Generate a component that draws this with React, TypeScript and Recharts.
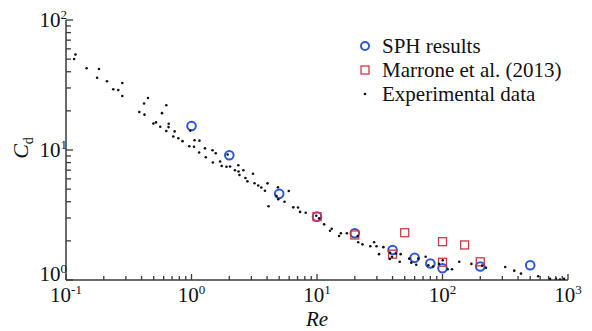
import { ScatterChart, Scatter, XAxis, YAxis, Legend } from "recharts";

const sphRe = [1, 2, 5, 10, 20, 40, 60, 80, 100, 200, 500];
const sphCd = [15.3, 9.1, 4.6, 3.07, 2.29, 1.7, 1.48, 1.34, 1.23, 1.27, 1.3];

const marroneRe = [10, 20, 40, 50, 100, 100, 150, 200];
const marroneCd = [3.07, 2.22, 1.58, 2.31, 1.97, 1.37, 1.86, 1.38];

const expRe = [
  0.119, 0.116, 0.146, 0.183, 0.177, 0.212, 0.281, 0.238, 0.261, 0.281,
  0.45, 0.419, 0.63, 0.384, 0.422, 0.582, 0.521, 0.497, 0.658, 0.564,
  0.656, 0.63, 0.734, 0.716, 0.785, 0.848, 0.978, 1.057, 1.158, 0.96,
  1.047, 1.28, 1.47, 1.56, 1.15, 1.3, 1.94, 1.48, 1.69, 1.74,
  1.9, 2.03, 2.36, 2.22, 2.37, 2.59, 3.09, 2.41, 2.69, 2.79,
  3.18, 3.4, 4.03, 3.6, 3.85, 4.88, 4.76, 4.91, 5.96, 5.51,
  4.11, 6.47, 7.06, 7.33, 8.13, 9.87, 10.4, 11.4, 13.1, 12.7,
  15.5, 15.0, 17.3, 21.1, 21.3, 23.0, 26.6, 28.5, 29.8, 31.2,
  33.8, 38.2, 39.6, 38.0, 42.6, 46.4, 45.6, 54.3, 56.4, 64.1,
  61.8, 73.4, 77.1, 84.0, 93.7, 100.4, 110, 119, 136, 170,
  207, 222, 316, 373, 422, 579, 719, 802, 863, 929,
];
const expCd = [
  54.3, 50.1, 42.5, 42.0, 36.0, 33.8, 32.8, 29.3, 28.9, 26.0,
  25.1, 22.8, 22.1, 19.6, 18.7, 19.2, 16.3, 16.0, 15.9, 15.1,
  15.0, 14.0, 13.9, 12.7, 12.3, 11.7, 14.1, 11.9, 11.8, 10.7,
  10.6, 10.3, 9.96, 9.43, 9.57, 8.79, 9.23, 8.01, 8.16, 7.53,
  7.43, 7.47, 7.64, 6.99, 6.83, 6.98, 6.57, 6.42, 6.09, 5.74,
  5.55, 5.33, 5.54, 5.15, 4.86, 5.16, 4.43, 4.18, 4.84, 4.0,
  3.69, 3.62, 3.61, 3.34, 3.29, 3.12, 2.98, 2.68, 2.48, 2.39,
  2.29, 2.18, 2.29, 2.18, 1.95, 1.88, 1.82, 1.95, 1.82, 1.58,
  1.79, 1.62, 1.51, 1.45, 1.6, 1.58, 1.38, 1.46, 1.36, 1.46,
  1.31, 1.51, 1.3, 1.27, 1.33, 1.42, 1.21, 1.21, 1.38, 1.33,
  1.29, 1.24, 1.26, 1.18, 1.12, 1.07, 1.02, 1.02, 1.01, 1.02,
];

const xMajor = [0.1, 1, 10, 100, 1000];
const xMajorLabels = ["-1", "0", "1", "2", "3"];
const yMajor = [1, 10, 100];
const yMajorLabels = ["0", "1", "2"];
const minorSteps = [2, 3, 4, 5, 6, 7, 8, 9];
const legendOrder = ["SPH results", "Marrone et al. (2013)", "Experimental data"];

const xTicks = [...xMajor, ...xMajor.slice(0, -1).flatMap(d => minorSteps.map(m => +(d * m).toPrecision(3)))];
const yTicks = [...yMajor, ...yMajor.slice(0, -1).flatMap(d => minorSteps.map(m => d * m))];

const FONT = '"Liberation Serif", "Times New Roman", serif';
const BLUE = "#2b57d8";
const RED = "#c83c46";
const AXIS = "#3a3a3a";

const toPts = (xs: number[], ys: number[]) => xs.map((re, i) => ({ re, cd: ys[i] }));
const sph = toPts(sphRe, sphCd);
const marrone = toPts(marroneRe, marroneCd);
const exp = toPts(expRe, expCd);

const CircleMark = (p: any) => <circle cx={p.cx} cy={p.cy} r={4.3} fill="none" stroke={BLUE} strokeWidth={2} />;
const SquareMark = (p: any) => <rect x={p.cx - 4} y={p.cy - 4} width={8} height={8} fill="none" stroke={RED} strokeWidth={1.3} />;
const DotMark = (p: any) => <circle cx={p.cx} cy={p.cy} r={1.3} fill="#111" />;

const XTick = (p: any) => {
  const v = p.payload.value;
  const i = xMajor.indexOf(v);
  const len = i >= 0 ? 6 : 4;
  return (
    <g>
      <line x1={p.x} x2={p.x} y1={p.y} y2={p.y - len} stroke={AXIS} strokeWidth={1.3} />
      {i >= 0 && (
        <text x={p.x} y={p.y + 22} textAnchor="middle" fontFamily={FONT} fontSize={21} fill="#111">
          10<tspan dy={-8} fontSize={13}>{xMajorLabels[i]}</tspan>
        </text>
      )}
    </g>
  );
};

const YTick = (p: any) => {
  const v = p.payload.value;
  const i = yMajor.indexOf(v);
  const len = i >= 0 ? 7 : 5;
  return (
    <g>
      <line x1={p.x} x2={p.x + len} y1={p.y} y2={p.y} stroke={AXIS} strokeWidth={1.3} />
      {i >= 0 && (
        <text x={p.x + 1} y={p.y + (v === 1 ? 1 : 7)} textAnchor="end" fontFamily={FONT} fontSize={21} fill="#111">
          10<tspan dy={-8} fontSize={13}>{yMajorLabels[i]}</tspan>
        </text>
      )}
    </g>
  );
};

const markers: Record<string, (cx: number, cy: number) => JSX.Element> = {
  "SPH results": (cx, cy) => <circle cx={cx} cy={cy} r={4} fill="none" stroke={BLUE} strokeWidth={2} />,
  "Marrone et al. (2013)": (cx, cy) => <rect x={cx - 4} y={cy - 4} width={8} height={8} fill="none" stroke={RED} strokeWidth={1.3} />,
  "Experimental data": (cx, cy) => <circle cx={cx} cy={cy} r={1.3} fill="#111" />,
};

const LegendBox = (props: any) => {
  const items = [...(props.payload || [])].sort(
    (a: any, b: any) => legendOrder.indexOf(a.value) - legendOrder.indexOf(b.value)
  );
  return (
    <div style={{ fontFamily: FONT, fontSize: 21, color: "#111", lineHeight: "24px" }}>
      {items.map((e: any) => (
        <div key={e.value} style={{ display: "flex", alignItems: "center", height: 24 }}>
          <svg width={18} height={24} style={{ marginRight: 8 }}>
            {markers[e.value]?.(9, 12)}
          </svg>
          <span>{e.value}</span>
        </div>
      ))}
    </div>
  );
};

export default function App() {
  return (
    <div style={{ position: "absolute", left: 0, top: 0, background: "#fff" }}>
      <ScatterChart width={592} height={331} margin={{ top: 20, right: 24, left: 0, bottom: 0 }}>
        <XAxis
          type="number"
          dataKey="re"
          scale="log"
          domain={[0.1, 1000]}
          allowDataOverflow
          ticks={xTicks}
          interval={0}
          tickSize={0}
          tickMargin={0}
          tick={<XTick />}
          height={51}
          axisLine={{ stroke: AXIS, strokeWidth: 1.5 }}
          label={{
            content: () => (
              <text x={317} y={326} textAnchor="middle" fontFamily={FONT} fontStyle="italic" fontSize={21} fill="#111">
                Re
              </text>
            ),
          }}
        />
        <YAxis
          type="number"
          dataKey="cd"
          scale="log"
          domain={[1, 100]}
          allowDataOverflow
          ticks={yTicks}
          interval={0}
          tickSize={0}
          tickMargin={0}
          tick={<YTick />}
          width={66}
          axisLine={{ stroke: AXIS, strokeWidth: 1.5 }}
          label={{
            content: () => (
              <text transform="translate(28,148) rotate(-90)" textAnchor="middle" fontFamily={FONT} fontStyle="italic" fontSize={22} fill="#111">
                C<tspan dy={5} fontSize={14} fontStyle="normal">d</tspan>
              </text>
            ),
          }}
        />
        <Legend
          layout="vertical"
          align="center"
          verticalAlign="middle"
          content={<LegendBox />}
          wrapperStyle={{ left: 356, top: 34, width: 230, height: 76 }}
        />
        <Scatter name="SPH results" data={sph} shape={CircleMark} fill={BLUE} isAnimationActive={false} />
        <Scatter name="Marrone et al. (2013)" data={marrone} shape={SquareMark} fill={RED} isAnimationActive={false} />
        <Scatter name="Experimental data" data={exp} shape={DotMark} fill="#111" isAnimationActive={false} />
      </ScatterChart>
    </div>
  );
}
